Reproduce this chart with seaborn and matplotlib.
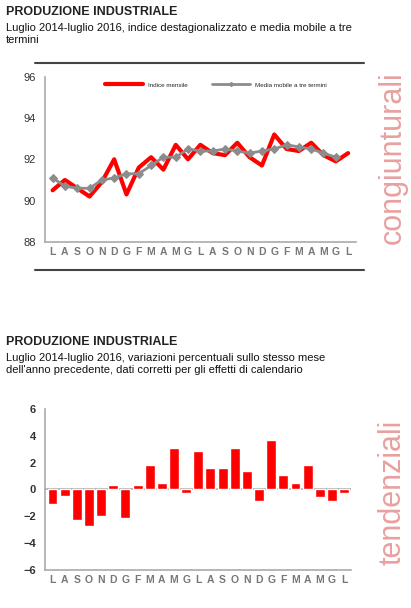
import numpy as np
import pandas as pd
import matplotlib
matplotlib.use("Agg")
import matplotlib.pyplot as plt
import seaborn as sns

months = ["L", "A", "S", "O", "N", "D", "G", "F", "M", "A", "M", "G", "L",
          "A", "S", "O", "N", "D", "G", "F", "M", "A", "M", "G", "L"]
indice = [90.5, 91.0, 90.6, 90.2, 90.9, 92.0, 90.3, 91.6, 92.1, 91.5, 92.7, 92.0, 92.7,
          92.3, 92.2, 92.8, 92.1, 91.7, 93.2, 92.5, 92.4, 92.8, 92.2, 91.9, 92.3]
media = [91.1, 90.7, 90.6, 90.6, 91.0, 91.1, 91.3, 91.3, 91.7, 92.1, 92.1, 92.5, 92.4,
         92.4, 92.5, 92.4, 92.3, 92.4, 92.5, 92.7, 92.6, 92.5, 92.3, 92.1, np.nan]
variazioni = [-1.1, -0.5, -2.3, -2.7, -2.0, 0.3, -2.1, 0.3, 1.8, 0.5, 3.1, -0.3, 2.9,
              1.6, 1.6, 3.1, 1.4, -0.9, 3.7, 1.1, 0.5, 1.8, -0.6, -0.9, -0.3]

df = pd.DataFrame({"pos": np.arange(len(months)), "indice": indice,
                   "media": media, "var": variazioni})

sns.set_style("white")
plt.rcParams["font.family"] = ["Liberation Sans", "DejaVu Sans"]

fig = plt.figure(figsize=(4.11, 6.08), dpi=100)
red = "#ff0000"


def style_axes(ax):
    for s in ["top", "right"]:
        ax.spines[s].set_visible(False)
    for s in ["left", "bottom"]:
        ax.spines[s].set_color("#aaaaaa")
        ax.spines[s].set_linewidth(1.2)
    ax.tick_params(axis="y", length=3, color="#aaaaaa", labelsize=8, labelcolor="#333333")
    ax.tick_params(axis="x", length=0, labelsize=7.5, labelcolor="#777777")
    ax.set_xticks(df["pos"])
    ax.set_xticklabels(months, fontweight="bold")
    ax.set_xlabel("")
    ax.set_ylabel("")


# Titles
fig.text(0.015, 0.99, "PRODUZIONE INDUSTRIALE", fontsize=9, fontweight="bold", va="top", color="#222222")
fig.text(0.015, 0.962, "Luglio 2014-luglio 2016, indice destagionalizzato e media mobile a tre\ntermini",
         fontsize=8, va="top", color="#111111", linespacing=1.2)
fig.add_artist(plt.Line2D([0.085, 0.885], [0.896, 0.896], color="#444444", lw=1.5))
fig.add_artist(plt.Line2D([0.085, 0.885], [0.556, 0.556], color="#444444", lw=1.5))

fig.text(0.015, 0.447, "PRODUZIONE INDUSTRIALE", fontsize=9, fontweight="bold", va="top", color="#222222")
fig.text(0.015, 0.419, "Luglio 2014-luglio 2016, variazioni percentuali sullo stesso mese\n"
         "dell'anno precedente, dati corretti per gli effetti di calendario",
         fontsize=8, va="top", color="#111111", linespacing=1.2)

fig.text(0.955, 0.74, "congiunturali", rotation=90, fontsize=22, color="#e8a0a0",
         ha="center", va="center")
fig.text(0.955, 0.19, "tendenziali", rotation=90, fontsize=22, color="#e8a0a0",
         ha="center", va="center")

# Top chart
ax1 = fig.add_axes([0.11, 0.602, 0.755, 0.272])
sns.lineplot(data=df, x="pos", y="indice", color=red, lw=3, ax=ax1, label="Indice mensile")
sns.lineplot(data=df, x="pos", y="media", color="#8c8c8c", lw=2, marker="D", markersize=4.5,
             markeredgecolor="#8c8c8c", ax=ax1, label="Media mobile a tre termini")
ax1.set_ylim(88, 96)
ax1.set_yticks([88, 90, 92, 94, 96])
ax1.set_xlim(-0.6, 24.6)
style_axes(ax1)
ax1.legend(loc="upper center", ncol=2, frameon=False, fontsize=4.5, handlelength=6,
           columnspacing=4, bbox_to_anchor=(0.55, 1.0), markerscale=0.5)

# Bottom chart
ax2 = fig.add_axes([0.11, 0.063, 0.745, 0.264])
sns.barplot(data=df, x="pos", y="var", color=red, saturation=1, width=0.82, ax=ax2)
ax2.axhline(0, color="#aaaaaa", lw=1.2, zorder=0)
ax2.set_ylim(-6, 6)
ax2.set_yticks([-6, -4, -2, 0, 2, 4, 6])
ax2.set_xlim(-0.6, 24.6)
style_axes(ax2)
for t in ax2.get_yticklabels():
    t.set_fontweight("bold")

fig.savefig("out.png", dpi=100)
